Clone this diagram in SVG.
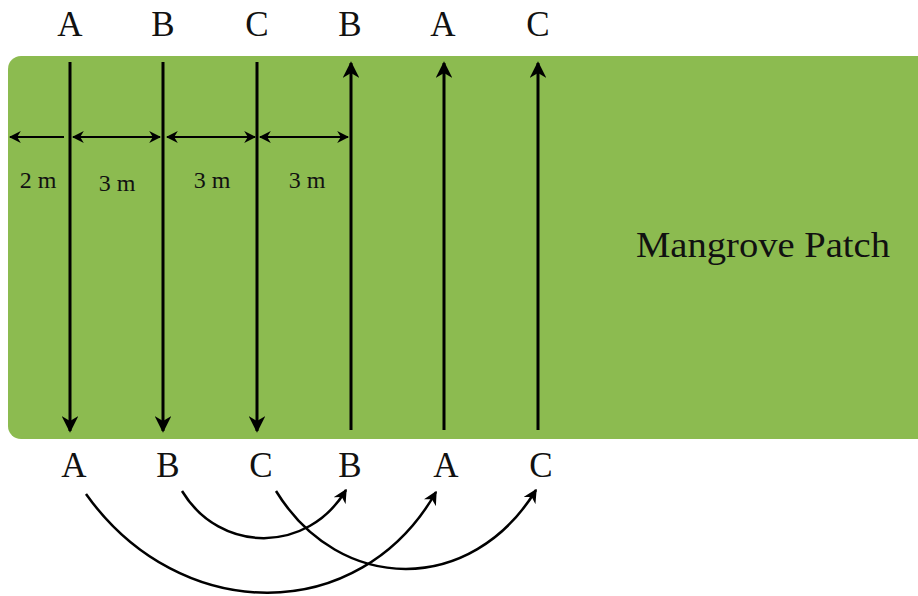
<svg xmlns="http://www.w3.org/2000/svg" width="918" height="596" viewBox="0 0 918 596">
  <defs>
    <style>
      .lbl { font-family: "Liberation Serif", "DejaVu Serif", serif; font-size: 35px; fill: #111; text-anchor: middle; }
      .dim { font-family: "Liberation Serif", "DejaVu Serif", serif; font-size: 24px; fill: #111; text-anchor: middle; }
      .title { font-family: "Liberation Serif", "DejaVu Serif", serif; font-size: 36px; fill: #111; }
      .transect { stroke: #000; stroke-width: 3; fill: none; }
      .measure { stroke: #000; stroke-width: 2; fill: none; }
      .swap { stroke: #000; stroke-width: 2.5; fill: none; }
    </style>
    <marker id="head" viewBox="0 0 10 10" refX="9" refY="5" markerWidth="5.5" markerHeight="5.5" orient="auto-start-reverse" markerUnits="strokeWidth">
      <path d="M0,0 L10,5 L0,10 L3,5 Z" fill="#000"/>
    </marker>
    <marker id="headSmall" viewBox="0 0 10 10" refX="9" refY="5" markerWidth="6" markerHeight="6" orient="auto-start-reverse" markerUnits="strokeWidth">
      <path d="M0,0 L10,5 L0,10 L3,5 Z" fill="#000"/>
    </marker>
  </defs>

  <rect width="918" height="596" fill="#fff"/>

  <!-- mangrove plot -->
  <g id="patch">
    <rect x="8" y="56" width="930" height="383" rx="13" ry="13" fill="#8cbb50"/>
    <text class="title" x="636" y="257" textLength="254" lengthAdjust="spacingAndGlyphs">Mangrove Patch</text>
  </g>

  <!-- transect labels, top -->
  <g id="labels-top">
    <text class="lbl" x="70" y="36">A</text>
    <text class="lbl" x="163" y="36">B</text>
    <text class="lbl" x="257" y="36">C</text>
    <text class="lbl" x="350" y="36">B</text>
    <text class="lbl" x="443" y="36">A</text>
    <text class="lbl" x="538" y="36">C</text>
  </g>

  <!-- transect labels, bottom -->
  <g id="labels-bottom">
    <text class="lbl" x="74" y="477">A</text>
    <text class="lbl" x="168" y="477">B</text>
    <text class="lbl" x="261" y="477">C</text>
    <text class="lbl" x="350" y="477">B</text>
    <text class="lbl" x="446" y="477">A</text>
    <text class="lbl" x="541" y="477">C</text>
  </g>

  <!-- spacing labels -->
  <g id="spacing-labels">
    <text class="dim" x="38" y="188">2 m</text>
    <text class="dim" x="117" y="191">3 m</text>
    <text class="dim" x="212" y="188">3 m</text>
    <text class="dim" x="307" y="188">3 m</text>
  </g>

  <g id="connectors">
    <!-- transects walked downward -->
    <line class="transect" x1="70" y1="62" x2="70" y2="431" marker-end="url(#head)"/>
    <line class="transect" x1="163" y1="62" x2="163" y2="431" marker-end="url(#head)"/>
    <line class="transect" x1="257" y1="62" x2="257" y2="431" marker-end="url(#head)"/>
    <!-- transects walked upward -->
    <line class="transect" x1="351" y1="430" x2="351" y2="63" marker-end="url(#head)"/>
    <line class="transect" x1="444" y1="430" x2="444" y2="63" marker-end="url(#head)"/>
    <line class="transect" x1="538" y1="430" x2="538" y2="63" marker-end="url(#head)"/>

    <!-- spacing dimensions -->
    <line class="measure" x1="64" y1="137" x2="10" y2="137" marker-end="url(#headSmall)"/>
    <line class="measure" x1="73" y1="137" x2="160" y2="137" marker-start="url(#headSmall)" marker-end="url(#headSmall)"/>
    <line class="measure" x1="167" y1="137" x2="255" y2="137" marker-start="url(#headSmall)" marker-end="url(#headSmall)"/>
    <line class="measure" x1="260" y1="137" x2="348" y2="137" marker-start="url(#headSmall)" marker-end="url(#headSmall)"/>

    <!-- repeat-walk links -->
    <path class="swap" d="M86,494 C180,626 360,626 436,492" marker-end="url(#head)"/>
    <path class="swap" d="M182,491 C220,554 308,554 346,490" marker-end="url(#head)"/>
    <path class="swap" d="M276,491 C340,595 472,595 536,490" marker-end="url(#head)"/>
  </g>
</svg>
